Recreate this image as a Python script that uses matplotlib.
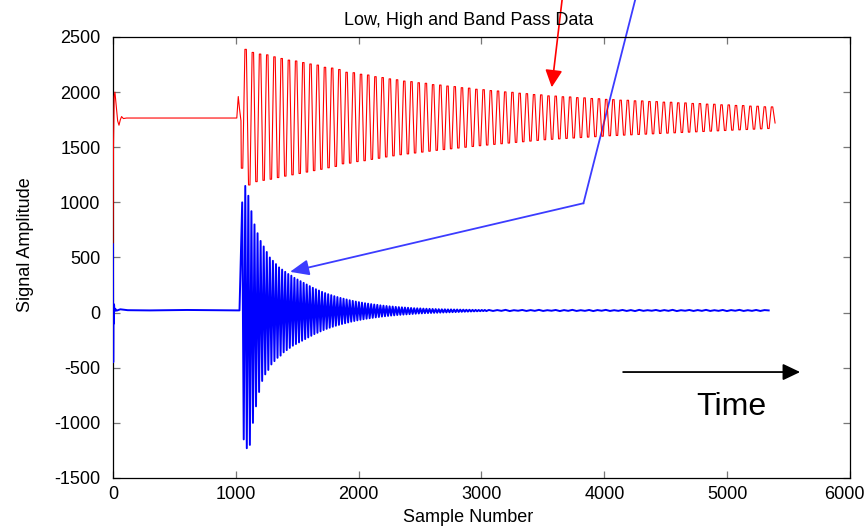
import matplotlib
matplotlib.use('Agg')
import matplotlib.pyplot as plt
import matplotlib.transforms as mtransforms
import numpy as np

plt.rcParams['font.family'] = ['Liberation Sans', 'DejaVu Sans']
plt.rcParams['axes.unicode_minus'] = False

# low pass (red): start-up transient, flat level, then decaying ringing
red_lead_x = [0, 4, 10, 16, 26, 38, 49, 60, 70, 85, 110, 1008, 1020, 1030, 1042]
red_lead_y = [600, 1500, 1960, 2000, 1880, 1740, 1700, 1750, 1778, 1760, 1765, 1765, 1960, 1850, 1740]
red_start = 1080
red_period = 58.7
red_high = [2388, 2360, 2345, 2338, 2320, 2305, 2290, 2282, 2268, 2255,
            2245, 2225, 2218, 2205, 2180, 2176, 2162, 2155, 2140, 2132,
            2120, 2112, 2100, 2095, 2085, 2080, 2068, 2064, 2055, 2050,
            2040, 2036, 2026, 2022, 2014, 2010, 2002, 1998, 1990, 1986,
            1978, 1975, 1966, 1964, 1958, 1956, 1950, 1948, 1942, 1940,
            1934, 1932, 1927, 1926, 1921, 1920, 1915, 1914, 1909, 1908,
            1903, 1902, 1897, 1896, 1891, 1890, 1885, 1884, 1879, 1878,
            1873, 1872, 1867, 1866]
red_low = [1310, 1158, 1188, 1200, 1210, 1225, 1238, 1250, 1262, 1275,
           1288, 1300, 1314, 1326, 1350, 1356, 1370, 1378, 1390, 1400,
           1412, 1422, 1432, 1440, 1448, 1456, 1464, 1472, 1479, 1486,
           1493, 1500, 1507, 1514, 1520, 1526, 1532, 1538, 1544, 1550,
           1556, 1562, 1568, 1572, 1576, 1580, 1584, 1588, 1592, 1596,
           1600, 1604, 1607, 1610, 1613, 1616, 1619, 1622, 1625, 1628,
           1631, 1634, 1637, 1640, 1643, 1646, 1649, 1652, 1655, 1658,
           1661, 1664, 1667, 1670]
red_end_x = [5390]
red_end_y = [1720]

# high / band pass (blue)
blue_lead_x = [0, 2, 4, 6, 9, 12, 18, 30, 60, 120, 300, 600, 1030]
blue_lead_y = [620, -450, 80, -100, 70, 10, 35, 18, 30, 22, 20, 24, 20]
blue_start = 1052
blue_period = 25
blue_high = [1000, 1149, 1060, 920, 800, 720, 650, 600, 550, 500,
             470, 440, 410, 390, 370, 350, 335, 315, 300, 285,
             270, 255, 240, 225, 212, 200, 188, 177, 167, 158,
             149, 141, 133, 126, 119, 112, 106, 100, 95, 90,
             85, 81, 77, 73, 70, 66, 63, 60, 57, 55,
             52, 50, 48, 46, 44, 42, 40, 39, 38, 36,
             35, 34, 33, 32, 31, 30, 30, 29, 29, 28,
             28, 27, 27, 26, 26, 25, 25, 24, 24, 24]
blue_low = [-1150, -1230, -1200, -1000, -850, -720, -620, -560, -520, -470,
            -440, -410, -390, -360, -340, -320, -300, -285, -270, -255,
            -240, -225, -210, -195, -183, -170, -158, -147, -137, -128,
            -119, -111, -103, -96, -89, -82, -76, -70, -65, -60,
            -55, -51, -47, -43, -40, -36, -33, -30, -27, -25,
            -22, -20, -18, -16, -14, -12, -10, -8, -7, -5,
            -4, -3, -2, -1, 0, 1, 2, 3, 4, 5,
            6, 7, 8, 9, 10, 11, 12, 13, 14, 14]
blue_tail_start = 3060
blue_tail_step = 34
blue_tail = [24, 15, 23, 16, 25, 14, 22, 17, 24, 15, 23, 16, 25, 15, 22, 17, 24, 14, 23, 16,
             25, 15, 22, 16, 24, 14, 23, 17, 25, 15, 22, 16, 24, 15, 23, 14, 25, 16, 22, 17,
             24, 15, 23, 16, 25, 14, 22, 17, 24, 15, 23, 16, 25, 15, 22, 16, 24, 14, 23, 17,
             25, 15, 22, 16, 24, 15, 23, 20]

# build the sample sequences (short flat tops on each extreme)
red_w = red_period * 0.1
red_hx = red_start + red_period * np.arange(len(red_high))
red_lx = red_hx - red_period / 2
red_x = np.concatenate([red_lead_x,
                        np.column_stack([red_lx - red_w, red_lx + red_w, red_hx - red_w, red_hx + red_w]).ravel(),
                        red_end_x])
red_y = np.concatenate([red_lead_y,
                        np.column_stack([red_low, red_low, red_high, red_high]).ravel(),
                        red_end_y])

blue_hx = blue_start + blue_period * np.arange(len(blue_high))
blue_lx = blue_hx + blue_period / 2
blue_tx = blue_tail_start + blue_tail_step * np.arange(len(blue_tail))
blue_x = np.concatenate([blue_lead_x, np.column_stack([blue_hx, blue_lx]).ravel(), blue_tx])
blue_y = np.concatenate([blue_lead_y, np.column_stack([blue_high, blue_low]).ravel(), blue_tail])

fig = plt.figure(figsize=(8.67, 5.27), dpi=100)
ax = fig.add_axes([0.1303, 0.0930, 0.8501, 0.8368])

ax.plot(red_x, red_y, color='#ff0000', lw=0.8, zorder=3)
ax.plot(blue_x, blue_y, color='#0000ff', lw=1.4, zorder=3)

ax.set_xlim(0, 6000)
ax.set_ylim(-1500, 2500)
ax.set_xticks(range(0, 6001, 1000))
ax.set_yticks(range(-1500, 2501, 500))
ax.tick_params(direction='in', length=5, width=0.9, color='#777777',
               top=True, right=True, labelsize=13, labelcolor='black')
ax.tick_params(axis='x', pad=6)
ax.tick_params(axis='y', pad=9)
for s in ax.spines.values():
    s.set_linewidth(0.9)

# keep the last x label inside the figure
last = ax.get_xticklabels()[-1]
last.set_transform(last.get_transform() + mtransforms.ScaledTranslation(-4 / 72, 0, fig.dpi_scale_trans))

fig.text(469 / 867, 1 - 25 / 527, 'Low, High and Band Pass Data', ha='center', va='baseline', fontsize=13)
fig.text(468 / 867, 1 - 522 / 527, 'Sample Number', ha='center', va='baseline', fontsize=13)
fig.text(26 / 867, 1 - 245 / 527, 'Signal Amplitude', ha='center', va='center', rotation=90, fontsize=13)

# red pointer
ax.annotate('', xy=(3572, 2044), xytext=(3656, 2836), annotation_clip=False,
            arrowprops=dict(arrowstyle='-|>,head_length=1.05,head_width=0.52', mutation_scale=10,
                            color='#ff0000', lw=1.2, shrinkA=0, shrinkB=0))

# blue pointer with a bend
blue_pointer_x = [4251, 3830]
blue_pointer_y = [2836, 992]
ax.plot(blue_pointer_x, blue_pointer_y, color='#3c3cff', lw=1.3, clip_on=False)
ax.annotate('', xy=(1441, 370), xytext=(3830, 992), annotation_clip=False,
            arrowprops=dict(arrowstyle='-|>,head_length=1.15,head_width=0.48', mutation_scale=10,
                            color='#3c3cff', lw=1.3, shrinkA=0, shrinkB=0))

# time arrow
ax.annotate('', xy=(5594, -539), xytext=(4153, -539), annotation_clip=False,
            arrowprops=dict(arrowstyle='-|>,head_length=1.05,head_width=0.5', mutation_scale=10,
                            color='black', lw=1.3, shrinkA=0, shrinkB=0))
ax.text(5033, -928, 'Time', ha='center', va='baseline', fontsize=23)

fig.savefig('out.png', dpi=100)
